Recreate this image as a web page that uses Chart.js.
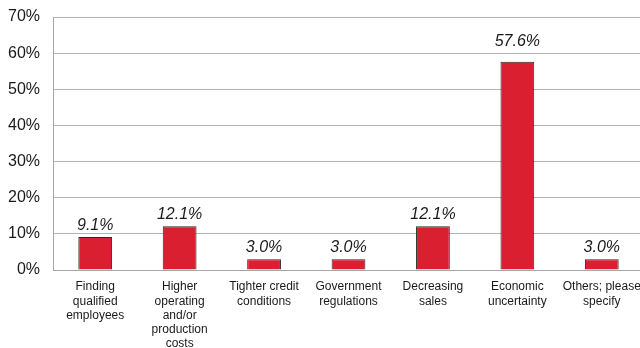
<!DOCTYPE html>
<html lang="en">
<head>
    <meta charset="UTF-8">
    <title>Biggest Concerns</title>
    <script src="https://cdn.jsdelivr.net/npm/chart.js"></script>
    <style>
        html, body { margin: 0; padding: 0; background: #fff; overflow: hidden; }
        #wrap { width: 645px; height: 348px; }
    </style>
</head>
<body>
    <div id="wrap">
        <canvas id="concernChart" width="645" height="348"></canvas>
    </div>

    <script>
        // Survey answers (% of respondents)
        const categories = [
            ['Finding', 'qualified', 'employees'],
            ['Higher', 'operating', 'and/or', 'production', 'costs'],
            ['Tighter credit', 'conditions'],
            ['Government', 'regulations'],
            ['Decreasing', 'sales'],
            ['Economic', 'uncertainty'],
            ['Others; please', 'specify']
        ];
        const shares = [9.1, 12.1, 3.0, 3.0, 12.1, 57.6, 3.0];

        // Writes the percentage above each bar in italics,
        // lifting it clear of a gridline if it would sit on one
        const barValueLabels = {
            id: 'barValueLabels',
            afterDatasetsDraw(chart) {
                const ctx = chart.ctx;
                const yScale = chart.scales.y;
                const gridYs = yScale.ticks.map(t => yScale.getPixelForValue(t.value));
                const meta = chart.getDatasetMeta(0);
                ctx.save();
                ctx.font = 'italic 16px "Liberation Sans", Arial, sans-serif';
                ctx.fillStyle = '#1a1a1a';
                ctx.textAlign = 'center';
                ctx.textBaseline = 'middle';
                meta.data.forEach((bar, i) => {
                    let y = bar.y - 12;
                    const hit = gridYs.find(g => g < bar.y && Math.abs(g - y) < 7);
                    if (hit !== undefined) y = hit - 12;
                    ctx.fillText(shares[i].toFixed(1) + '%', bar.x, y);
                });
                ctx.restore();
            }
        };

        const ctx = document.getElementById('concernChart').getContext('2d');
        new Chart(ctx, {
            type: 'bar',
            data: {
                labels: categories,
                datasets: [{
                    data: shares,
                    backgroundColor: '#da2030',
                    borderColor: '#2a2a2a',
                    borderWidth: 1,
                    borderSkipped: 'bottom',
                    barPercentage: 0.4,
                    categoryPercentage: 1.0
                }]
            },
            options: {
                responsive: false,
                animation: false,
                layout: { padding: { top: 17, right: 1, bottom: 0, left: 0 } },
                plugins: {
                    legend: { display: false },
                    tooltip: { enabled: false }
                },
                scales: {
                    x: {
                        grid: { display: false, drawTicks: false },
                        border: { color: '#a6a6a6', width: 1 },
                        ticks: {
                            padding: 10,
                            maxRotation: 0,
                            autoSkip: false,
                            color: '#1a1a1a',
                            font: { family: '"Liberation Sans", Arial, sans-serif', size: 12, lineHeight: 1.18 }
                        },
                        afterFit(scale) {
                            scale.height = 78;
                            scale.paddingLeft = 0;
                            scale.paddingRight = 0;
                        }
                    },
                    y: {
                        min: 0,
                        max: 70,
                        grid: { color: '#b4b4b4', drawTicks: false },
                        border: { color: '#a6a6a6', width: 1 },
                        ticks: {
                            stepSize: 10,
                            padding: 13,
                            color: '#1a1a1a',
                            font: { family: '"Liberation Sans", Arial, sans-serif', size: 16 },
                            callback: v => v + '%'
                        },
                        afterFit(scale) {
                            scale.width = 53;
                            scale.paddingTop = 0;
                            scale.paddingBottom = 0;
                        }
                    }
                }
            },
            plugins: [barValueLabels]
        });
    </script>
</body>
</html>
